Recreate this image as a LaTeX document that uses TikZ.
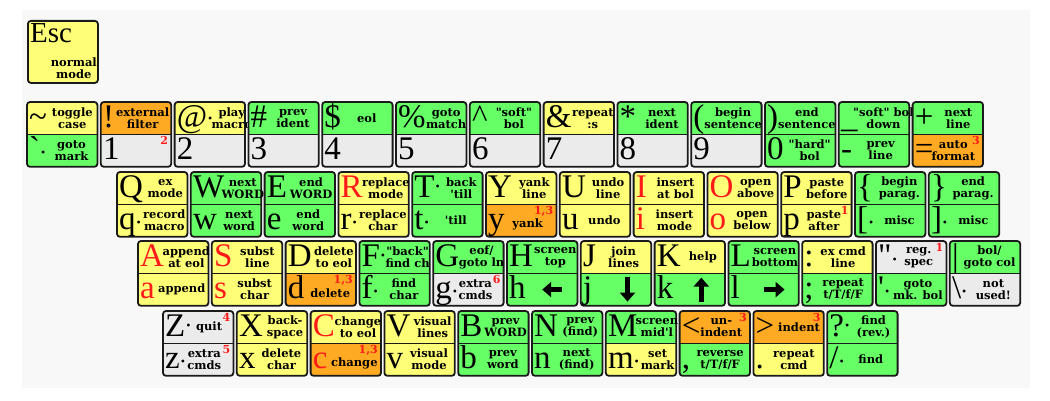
\documentclass[tikz,border=0pt]{standalone}
\usepackage{fontspec}
\setmainfont{DejaVu Serif}
\newfontfamily\keyfont{Liberation Serif}
\usetikzlibrary{arrows.meta,positioning,calc}

\definecolor{viyellow}{HTML}{FFFF77}
\definecolor{vigreen}{HTML}{66FF66}
\definecolor{viorange}{HTML}{FFAA22}
\definecolor{vigrey}{HTML}{EBEBEB}
\definecolor{vired}{HTML}{FF1A1A}
\definecolor{keyline}{HTML}{1A1A1A}
\definecolor{pagegrey}{HTML}{F8F8F8}

\newcommand{\ad}[1][3pt]{\kern1pt\raisebox{#1}{\fontsize{12}{12}\selectfont\textbullet}}
\newcommand{\rd}[1]{\textcolor{vired}{#1}}
% name, x, y, top colour, top char, top text, bottom colour, bottom char, bottom text
\newcommand{\vikey}[9]{%
  \node[half, fill=#4, anchor=north west] (#1t) at (#2,#3) {};
  \node[half, fill=#7, anchor=north] (#1b) at (#1t.south) {};
  \draw[keyframe] (#1t.north west) rectangle (#1b.south east);
  \draw[divider] (#1t.south west) -- (#1t.south east);
  \node[bigchar] (#1tc) at ($(#1t.south west)+(2,7)$) {#5};
  \node[desc, nudge #1t/.try] (#1td) at ($(#1t.east)!0.5!(#1t.east -| #1tc.east)$) {#6};
  \node[bigchar] (#1bc) at ($(#1b.south west)+(2,7)$) {#8};
  \node[desc, nudge #1b/.try] (#1bd) at ($(#1b.east)!0.5!(#1b.east -| #1bc.east)$) {#9};
}

\begin{document}
\begin{tikzpicture}[
  x=1pt, y=1pt,
  half/.style={rectangle, minimum width=70pt, minimum height=32pt, inner sep=0pt},
  keyframe/.style={draw=keyline, line width=1.8pt, rounded corners=3pt},
  divider/.style={draw=keyline, line width=1.4pt},
  bigchar/.style={anchor=base west, inner sep=0pt, font=\keyfont\fontsize{33}{33}\selectfont},
  desc/.style={align=center, inner sep=0pt, font=\bfseries\fontsize{11.5}{12}\selectfont},
  note/.style={anchor=north east, inner sep=0pt, xshift=-3pt, yshift=-2pt, text=vired, font=\bfseries\fontsize{11}{11}\selectfont},
  bigarrow/.style={line width=4.5pt, -{Triangle[length=9pt, width=15pt]}},
  nudge atkt/.style={xshift=3pt},
  nudge plusb/.style={xshift=-5pt},
  nudge yb/.style={xshift=-3pt, yshift=-4pt},
  nudge db/.style={yshift=-4pt},
  nudge cb/.style={yshift=-4pt},
  nudge gb/.style={xshift=-5pt},
  nudge zt/.style={xshift=-3pt},
  nudge zb/.style={xshift=-5pt},
  nudge ltt/.style={xshift=-4pt},
  nudge quotet/.style={xshift=-3pt},
  nudge pb/.style={xshift=-2pt}
]
\useasboundingbox (0,0) rectangle (1050,400);
\fill[pagegrey] (22,12) rectangle (1030,390);

% escape
\node[keyframe, fill=viyellow, anchor=north west, minimum width=70pt, minimum height=62pt, inner sep=0pt] (esc) at (27,380) {};
\node[bigchar, font=\keyfont\fontsize{29}{29}\selectfont] (escc) at ($(esc.north west)+(3,-23)$) {Esc};
\node[desc] (escd) at ($(esc.south east)+(-25,16)$) {normal\\mode};

% number row
\vikey{tilde}{27+0*73.8}{298}{viyellow}{\textasciitilde}{toggle\\case}{vigreen}{\textasciigrave\ad}{goto\\mark}
\vikey{excl}{27+1*73.8}{298}{viorange}{!}{external\\filter}{vigrey}{1}{}
\vikey{atk}{27+2*73.8}{298}{viyellow}{@\ad[5pt]}{play\\macro}{vigrey}{2}{}
\vikey{hash}{27+3*73.8}{298}{vigreen}{\#}{prev\\ident}{vigrey}{3}{}
\vikey{dollar}{27+4*73.8}{298}{vigreen}{\$}{eol}{vigrey}{4}{}
\vikey{pct}{27+5*73.8}{298}{vigreen}{\%}{goto\\match}{vigrey}{5}{}
\vikey{caret}{27+6*73.8}{298}{vigreen}{\textasciicircum}{\textquotedbl soft\textquotedbl\\bol}{vigrey}{6}{}
\vikey{amp}{27+7*73.8}{298}{viyellow}{\&}{repeat\\:s}{vigrey}{7}{}
\vikey{star}{27+8*73.8}{298}{vigreen}{*}{next\\ident}{vigrey}{8}{}
\vikey{lpar}{27+9*73.8}{298}{vigreen}{(}{begin\\sentence}{vigrey}{9}{}
\vikey{rpar}{27+10*73.8}{298}{vigreen}{)}{end\\sentence}{vigreen}{0}{\textquotedbl hard\textquotedbl\\bol}
\vikey{uscore}{27+11*73.8}{298}{vigreen}{\_}{\textquotedbl soft\textquotedbl{} bol\\down}{vigreen}{-}{prev\\line}
\vikey{plus}{27+12*73.8}{298}{vigreen}{+}{next\\line}{viorange}{=}{auto\\format}
\node[note] (exclnote) at (exclb.north east) {2};
\node[note] (plusnote) at (plusb.north east) {3};

% upper row
\vikey{q}{117+0*73.8}{228}{viyellow}{Q}{ex\\mode}{viyellow}{q\ad}{record\\macro}
\vikey{w}{117+1*73.8}{228}{vigreen}{W}{next\\WORD}{vigreen}{w}{next\\word}
\vikey{e}{117+2*73.8}{228}{vigreen}{E}{end\\WORD}{vigreen}{e}{end\\word}
\vikey{r}{117+3*73.8}{228}{viyellow}{\rd{R}}{replace\\mode}{viyellow}{r\ad}{replace\\char}
\vikey{t}{117+4*73.8}{228}{vigreen}{T\ad[7pt]}{back\\\textquotesingle till}{vigreen}{t\ad}{\textquotesingle till}
\vikey{y}{117+5*73.8}{228}{viyellow}{Y}{yank\\line}{viorange}{y}{yank}
\vikey{u}{117+6*73.8}{228}{viyellow}{U}{undo\\line}{viyellow}{u}{undo}
\vikey{i}{117+7*73.8}{228}{viyellow}{\rd{I}}{insert\\at bol}{viyellow}{\rd{i}}{insert\\mode}
\vikey{o}{117+8*73.8}{228}{viyellow}{\rd{O}}{open\\above}{viyellow}{\rd{o}}{open\\below}
\vikey{p}{117+9*73.8}{228}{viyellow}{P}{paste\\before}{viyellow}{p}{paste\\after}
\vikey{lbrace}{117+10*73.8}{228}{vigreen}{\{}{begin\\parag.}{vigreen}{[\ad}{misc}
\vikey{rbrace}{117+11*73.8}{228}{vigreen}{\}}{end\\parag.}{vigreen}{]\ad}{misc}
\node[note] (ynote) at (yb.north east) {1,3};
\node[note] (pnote) at (pb.north east) {1};

% home row
\vikey{a}{138+0*73.8}{159}{viyellow}{\rd{A}}{append\\at eol}{viyellow}{\rd{a}}{append}
\vikey{s}{138+1*73.8}{159}{viyellow}{\rd{S}}{subst\\line}{viyellow}{\rd{s}}{subst\\char}
\vikey{d}{138+2*73.8}{159}{viyellow}{D}{delete\\to eol}{viorange}{d}{delete}
\vikey{f}{138+3*73.8}{159}{vigreen}{F\ad[7pt]}{\textquotedbl back\textquotedbl\\find ch}{vigreen}{f\ad}{find\\char}
\vikey{g}{138+4*73.8}{159}{vigreen}{G}{eof/\\goto ln}{vigrey}{g\ad}{extra\\cmds}
\vikey{h}{138+5*73.8}{159}{vigreen}{H}{screen\\top}{vigreen}{h}{}
\vikey{j}{138+6*73.8}{159}{viyellow}{J}{join\\lines}{vigreen}{j}{}
\vikey{k}{138+7*73.8}{159}{viyellow}{K}{help}{vigreen}{k}{}
\vikey{l}{138+8*73.8}{159}{vigreen}{L}{screen\\bottom}{vigreen}{l}{}
\vikey{colon}{138+9*73.8}{159}{viyellow}{:}{ex cmd\\line}{vigreen}{;}{repeat\\t/T/f/F}
\vikey{quote}{138+10*73.8}{159}{vigrey}{\textquotedbl\ad}{reg.\\spec}{vigreen}{\textquotesingle\ad}{goto\\mk. bol}
\vikey{bar}{138+11*73.8}{159}{vigreen}{|}{bol/\\goto col}{vigrey}{\textbackslash\ad}{not\\used!}
\node[note] (dnote) at (db.north east) {1,3};
\node[note] (gnote) at (gb.north east) {6};
\node[note] (quotenote) at (quotet.north east) {1};
\draw[bigarrow] ($(hb.center)+(20,0)$) -- (hb.center);
\draw[bigarrow] ($(jb.center)+(11.5,13)$) -- ($(jb.center)+(11.5,-12)$);
\draw[bigarrow] ($(kb.center)+(11.5,-12)$) -- ($(kb.center)+(11.5,12)$);
\draw[bigarrow] (lb.center) -- ($(lb.center)+(21,0)$);

% bottom row
\vikey{z}{163+0*73.8}{89}{vigrey}{Z\ad[7pt]}{quit}{vigrey}{z\ad}{extra\\cmds}
\vikey{x}{163+1*73.8}{89}{viyellow}{X}{back-\\space}{viyellow}{x}{delete\\char}
\vikey{c}{163+2*73.8}{89}{viyellow}{\rd{C}}{change\\to eol}{viorange}{\rd{c}}{change}
\vikey{v}{163+3*73.8}{89}{viyellow}{V}{visual\\lines}{viyellow}{v}{visual\\mode}
\vikey{b}{163+4*73.8}{89}{vigreen}{B}{prev\\WORD}{vigreen}{b}{prev\\word}
\vikey{n}{163+5*73.8}{89}{vigreen}{N}{prev\\(find)}{vigreen}{n}{next\\(find)}
\vikey{m}{163+6*73.8}{89}{vigreen}{M}{screen\\mid\textquotesingle l}{viyellow}{m\ad}{set\\mark}
\vikey{lt}{163+7*73.8}{89}{viorange}{<}{un-\\indent}{vigreen}{,}{reverse\\t/T/f/F}
\vikey{gt}{163+8*73.8}{89}{viorange}{>}{indent}{viyellow}{.}{repeat\\cmd}
\vikey{qmark}{163+9*73.8}{89}{vigreen}{?\ad[7pt]}{find\\(rev.)}{vigreen}{/\ad}{find}
\node[note] (znote) at (zt.north east) {4};
\node[note] (zbnote) at (zb.north east) {5};
\node[note] (cnote) at (cb.north east) {1,3};
\node[note] (ltnote) at (ltt.north east) {3};
\node[note] (gtnote) at (gtt.north east) {3};
\end{tikzpicture}
\end{document}
